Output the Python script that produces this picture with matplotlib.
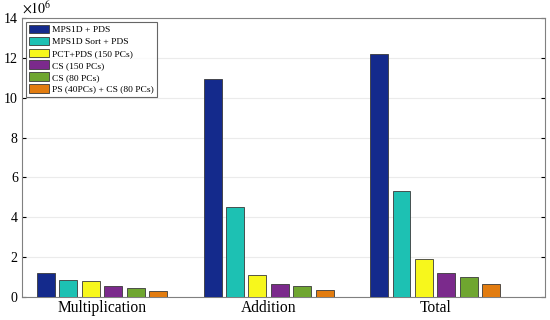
import numpy as np
import matplotlib.pyplot as plt

plt.rcParams['font.family'] = ['Liberation Serif', 'DejaVu Serif']
plt.rcParams['mathtext.fontset'] = 'stix'

# data (x 1e6 operations)
categories = ['Multiplication', 'Addition', 'Total']
methods = ['MPS1D + PDS', 'MPS1D Sort + PDS', 'PCT+PDS (150 PCs)',
           'CS (150 PCs)', 'CS (80 PCs)', 'PS (40PCs) + CS (80 PCs)']
mps1d = [1.2, 10.95, 12.17]
mps1d_sort = [0.83, 4.5, 5.33]
pct_pds = [0.8, 1.12, 1.92]
cs150 = [0.57, 0.63, 1.22]
cs80 = [0.43, 0.57, 1.0]
ps_cs = [0.3, 0.33, 0.65]
colors = ['#142a8c', '#1dc1b3', '#f7f71c', '#7b2a8c', '#6fa630', '#e27c10']

series = [mps1d, mps1d_sort, pct_pds, cs150, cs80, ps_cs]

fig = plt.figure(figsize=(5.5, 3.2), dpi=100)
ax = fig.add_axes([0.04, 0.072, 0.951, 0.872])

x = np.arange(1, len(categories) + 1)
step = 0.1345
w = 0.108
for i, (vals, name, c) in enumerate(zip(series, methods, colors)):
    offs = (i - 2.5) * step
    ax.bar(x + offs, np.array(vals) * 1e6, width=w, color=c,
           edgecolor='#3a3a3a', linewidth=0.6, label=name, zorder=3)

ax.set_xlim(0.52, 3.66)
ax.set_ylim(0, 14e6)
ax.set_yticks(np.arange(0, 15e6, 2e6))
ax.set_yticklabels([str(v) for v in range(0, 15, 2)], fontsize=10)
ax.set_xticks(x)
ax.set_xticklabels(categories, fontsize=11.2)
ax.tick_params(axis='x', length=0, pad=2)
ax.tick_params(axis='y', direction='in', length=3, right=True, pad=3)
ax.grid(axis='y', color='#ebebeb', linewidth=0.8, zorder=0)
for s in ax.spines.values():
    s.set_color('#808080')
    s.set_linewidth(0.8)

ax.text(0.0, 1.005, r'$\times10^{6}$', transform=ax.transAxes,
        fontsize=10, ha='left', va='bottom')

leg = ax.legend(loc='upper left', fontsize=6.8, frameon=True, fancybox=False,
                edgecolor='#404040', borderpad=0.35, labelspacing=0.25,
                handlelength=2.1, handleheight=1.0, handletextpad=0.3,
                borderaxespad=0.4)
leg.get_frame().set_linewidth(0.8)

fig.savefig('out.png', dpi=100)
